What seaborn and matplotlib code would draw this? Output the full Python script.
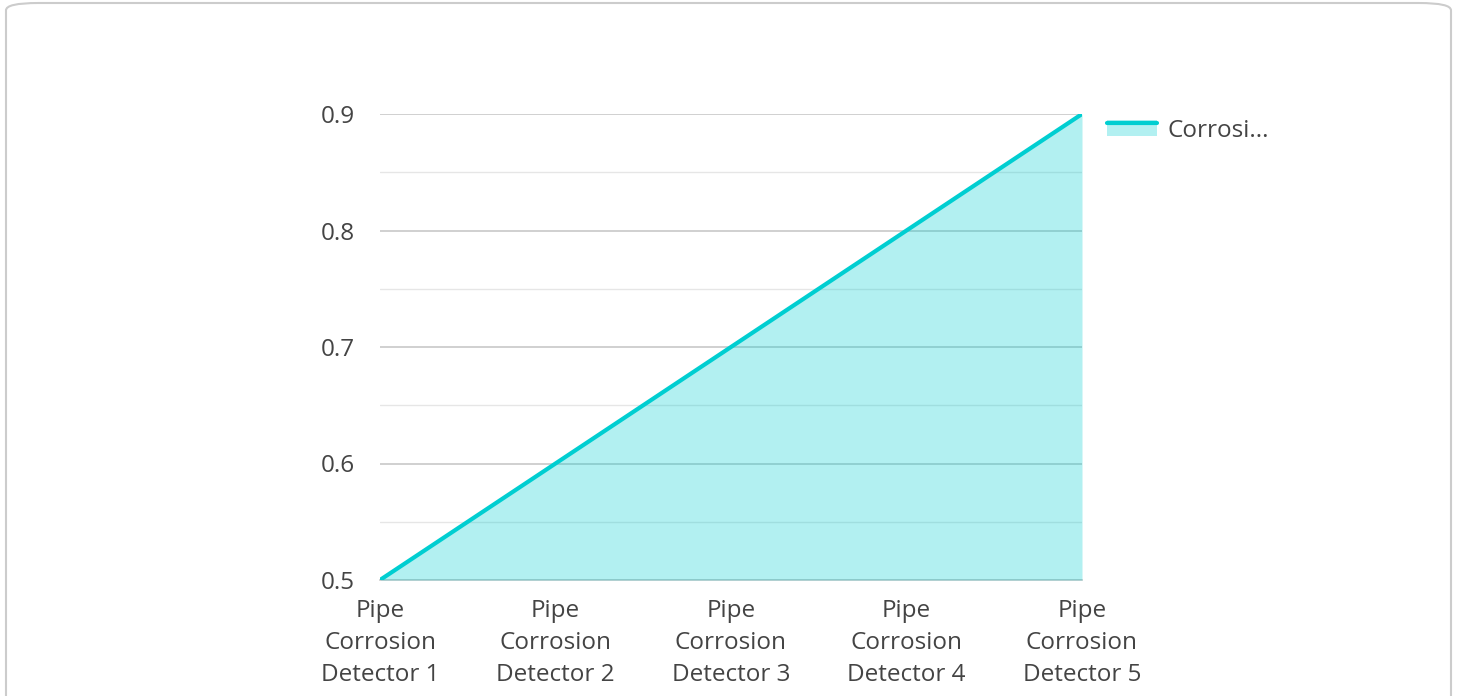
"""Pipe corrosion detector readings, area chart."""

import matplotlib

matplotlib.use("Agg")
import matplotlib.pyplot as plt
import pandas as pd
import seaborn as sns
from matplotlib.legend_handler import HandlerBase
from matplotlib.lines import Line2D
from matplotlib.patches import FancyBboxPatch, Patch, Rectangle

categories = [
    "Pipe\nCorrosion\nDetector 1",
    "Pipe\nCorrosion\nDetector 2",
    "Pipe\nCorrosion\nDetector 3",
    "Pipe\nCorrosion\nDetector 4",
    "Pipe\nCorrosion\nDetector 5",
]
corrosion = [0.5, 0.6, 0.7, 0.8, 0.9]
series_label = "Corrosi..."
y_ticks = [0.5, 0.6, 0.7, 0.8, 0.9]

LINE = "#00CED1"
TEXT = "#444444"
FS = 17.5


class AreaHandler(HandlerBase):
    """Legend key: filled box with the line on its top edge."""

    def create_artists(self, legend, orig, xd, yd, w, h, fontsize, trans):
        rect = Rectangle((-xd, -yd), w, h, facecolor=LINE, alpha=0.3,
                         edgecolor="none", transform=trans)
        line = Line2D([-xd, -xd + w], [-yd + h - 2, -yd + h - 2], color=LINE,
                      lw=3, transform=trans)
        return [rect, line]


sns.set_theme(style="white")
plt.rcParams["font.family"] = ["Open Sans", "DejaVu Sans"]

df = pd.DataFrame({"x": range(len(categories)), "value": corrosion})

fig = plt.figure(figsize=(14.58, 6.96), dpi=100)
card = FancyBboxPatch((6 / 1458, -0.05), 1445 / 1458, 1.0 - 3 / 696 + 0.05,
                      boxstyle="round,pad=0,rounding_size=0.022",
                      transform=fig.transFigure, facecolor="white",
                      edgecolor="#cccccc", lw=1.5, mutation_aspect=696 / 1458,
                      zorder=-10)
fig.patches.append(card)
ax = fig.add_axes([380 / 1458, 1 - 580 / 696, 702 / 1458, 466 / 696])
ax.set_facecolor("none")
ax.set_zorder(1)

sns.lineplot(data=df, x="x", y="value", ax=ax, color=LINE, lw=3, zorder=4)
ax.fill_between(df["x"], df["value"], 0.5, color=LINE, alpha=0.3, lw=0, zorder=3)

ax.set_xlim(0, len(categories) - 1)
ax.set_ylim(0.5, 0.9)
ax.set_yticks(y_ticks)
ax.set_yticklabels([f"{v:.1f}" for v in y_ticks])
ax.set_yticks([0.55, 0.65, 0.75, 0.85], minor=True)
ax.set_xticks(df["x"])
ax.set_xticklabels(categories, linespacing=1.43)
ax.grid(axis="y", which="major", color="#c8c8c8", lw=1.2, zorder=1)
ax.grid(axis="y", which="minor", color="#e6e6e6", lw=1.0, zorder=1)
ax.grid(axis="x", visible=False)
for side in ["top", "right", "left"]:
    ax.spines[side].set_visible(False)
ax.spines["bottom"].set_color("#c8c8c8")
ax.spines["bottom"].set_linewidth(1.2)
ax.tick_params(axis="both", which="both", length=0, labelsize=FS,
               labelcolor=TEXT)
ax.tick_params(axis="y", pad=18)
ax.tick_params(axis="x", pad=14)
ax.set_xlabel("")
ax.set_ylabel("")

ax.legend(handles=[Patch()], labels=[series_label],
          handler_map={Patch: AreaHandler()},
          loc="upper left", bbox_to_anchor=(1.022, 1.011), frameon=False,
          fontsize=FS, labelcolor=TEXT, handlelength=2.06, handleheight=0.66,
          handletextpad=0.42, borderaxespad=0)

fig.savefig("out.png", dpi=100)
plt.close(fig)
